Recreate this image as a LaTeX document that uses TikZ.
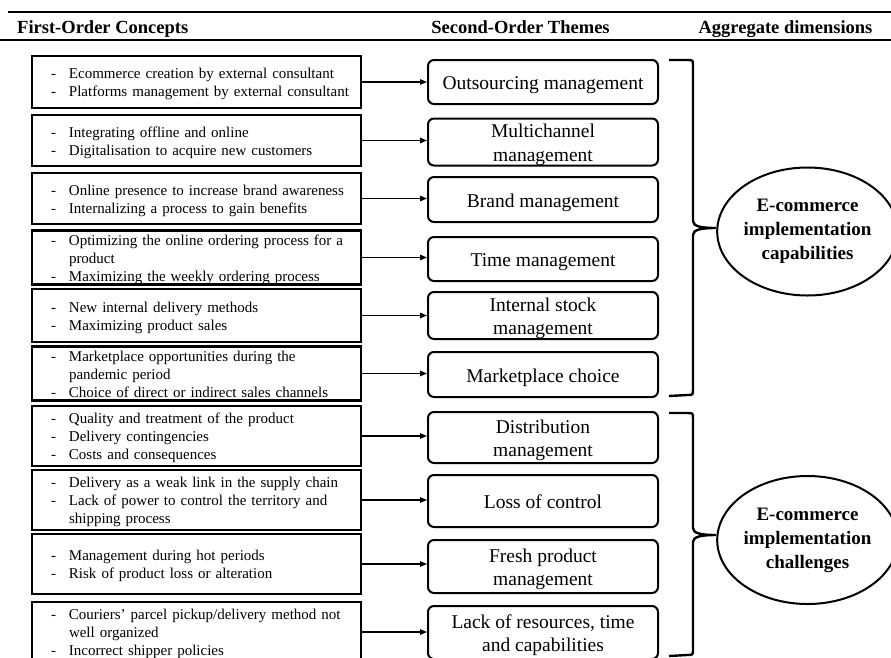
\documentclass[tikz,border=0pt]{standalone}
\usepackage{fontspec}
\setmainfont{Liberation Serif}
\usetikzlibrary{arrows.meta,shapes.geometric}
\tikzset{
 lbox/.style={draw, line width=2.3pt, minimum width=329pt, text width=291pt, inner xsep=19pt, inner ysep=0pt, align=left, font=\fontsize{15}{18}\selectfont},
 rbox/.style={draw, line width=2pt, rounded corners=6pt, minimum width=230pt, inner sep=0pt, font=\fontsize{19.5}{23.5}\selectfont},
 dimnode/.style={draw, ellipse, line width=2pt, minimum width=165pt, minimum height=128pt, inner sep=0pt, align=center, font=\fontsize{19}{24}\selectfont\bfseries},
 hdr/.style={font=\fontsize{18.5}{20}\selectfont\bfseries, inner sep=0pt},
 link/.style={line width=1.2pt, -{Triangle[length=7pt,width=5.5pt]}},
 rulestyle/.style={line width=1.2pt},
 bracestyle/.style={line width=2.4pt}
}
\newcommand{\dl}[1]{\raisebox{-2pt}[\height][\depth]{\begin{tabular}{@{}p{18pt}@{}l@{}}#1\end{tabular}}}
\newcommand{\rt}[1]{\raisebox{-3pt}[\height][\depth]{\begin{tabular}{@{}c@{}}#1\end{tabular}}}
\begin{document}
\begin{tikzpicture}[x=1pt,y=-1pt]
\clip (0,0) rectangle (891,657);
% header
\draw[rulestyle] (8,12) -- (891,12);
\draw[rulestyle] (0,40) -- (891,40);
\node[hdr, anchor=base west] (h1) at (17,33) {First-Order Concepts};
\node[hdr, anchor=base] (h2) at (520.5,33) {Second-Order Themes};
\node[hdr, anchor=base] (h3) at (785.5,33) {Aggregate dimensions};
% left boxes
\node[lbox, minimum height=52pt] (L1) at (196.5,82) {\dl{-& Ecommerce creation by external consultant\\ -& Platforms management by external consultant}};
\node[lbox, minimum height=51pt] (L2) at (196.5,140.5) {\dl{-& Integrating offline and online\\ -& Digitalisation to acquire new customers}};
\node[lbox, minimum height=51pt] (L3) at (196.5,198.5) {\dl{-& Online presence to increase brand awareness\\ -& Internalizing a process to gain benefits}};
\node[lbox, minimum height=51pt] (L4) at (196.5,257.5) {\dl{-& Optimizing the online ordering process for a\\ & product\\ -& Maximizing the weekly ordering process}};
\node[lbox, minimum height=53pt] (L5) at (196.5,315.5) {\dl{-& New internal delivery methods\\ -& Maximizing product sales}};
\node[lbox, minimum height=51pt] (L6) at (196.5,373.5) {\dl{-& Marketplace opportunities during the\\ & pandemic period\\ -& Choice of direct or indirect sales channels}};
\node[lbox, minimum height=60pt] (L7) at (196.5,436) {\dl{-& Quality and treatment of the product\\ -& Delivery contingencies\\ -& Costs and consequences}};
\node[lbox, minimum height=60pt] (L8) at (196.5,500) {\dl{-& Delivery as a weak link in the supply chain\\ -& Lack of power to control the territory and\\ & shipping process}};
\node[lbox, minimum height=60pt] (L9) at (196.5,564) {\dl{-& Management during hot periods\\ -& Risk of product loss or alteration}};
\node[lbox, minimum height=60pt] (L10) at (196.5,632) {\dl{-& Couriers’ parcel pickup/delivery method not\\ & well organized\\ -& Incorrect shipper policies}};
% right boxes
\node[rbox, minimum height=44pt] (R1) at (543,82) {\rt{Outsourcing management}};
\node[rbox, minimum height=44pt] (R2) at (543,142) {\rt{Multichannel\\management}};
\node[rbox, minimum height=45pt] (R3) at (543,199.5) {\rt{Brand management}};
\node[rbox, minimum height=44pt] (R4) at (543,259) {\rt{Time management}};
\node[rbox, minimum height=45pt] (R5) at (543,315.5) {\rt{Internal stock\\management}};
\node[rbox, minimum height=45pt] (R6) at (543,374.5) {\rt{Marketplace choice}};
\node[rbox, minimum height=51pt] (R7) at (543,437.5) {\rt{Distribution\\management}};
\node[rbox, minimum height=52pt] (R8) at (543,501) {\rt{Loss of control}};
\node[rbox, minimum height=53pt] (R9) at (543,566.5) {\rt{Fresh product\\management}};
\node[rbox, minimum height=53pt] (R10) at (543,632.5) {\rt{Lack of resources, time\\and capabilities}};
% arrows
\foreach \i in {1,...,10}{
  \draw[link] (L\i.east) -- (L\i.east -| R\i.west);
}
% aggregate dimensions
\node[dimnode] (D1) at (807.5,231.5) {E-commerce\\implementation\\capabilities};
\node[dimnode] (D2) at (807.5,540) {E-commerce\\implementation\\challenges};
% braces
\coordinate (b1tip) at (716,228);
\coordinate (b2tip) at (716,535);
\draw[bracestyle] (669,60) -- (687,60) .. controls (693,60) .. (693,66) -- (693,221)
  .. controls (693,226) and (700,228) .. (b1tip)
  .. controls (700,228) and (693,230) .. (693,235) -- (693,389)
  .. controls (693,395) .. (687,395) -- (669,396);
\draw[bracestyle] (669,413) -- (687,413) .. controls (693,413) .. (693,419) -- (693,528)
  .. controls (693,533) and (700,535) .. (b2tip)
  .. controls (700,535) and (693,537) .. (693,542) -- (693,649)
  .. controls (693,655) .. (687,655) -- (669,656);
\end{tikzpicture}
\end{document}
